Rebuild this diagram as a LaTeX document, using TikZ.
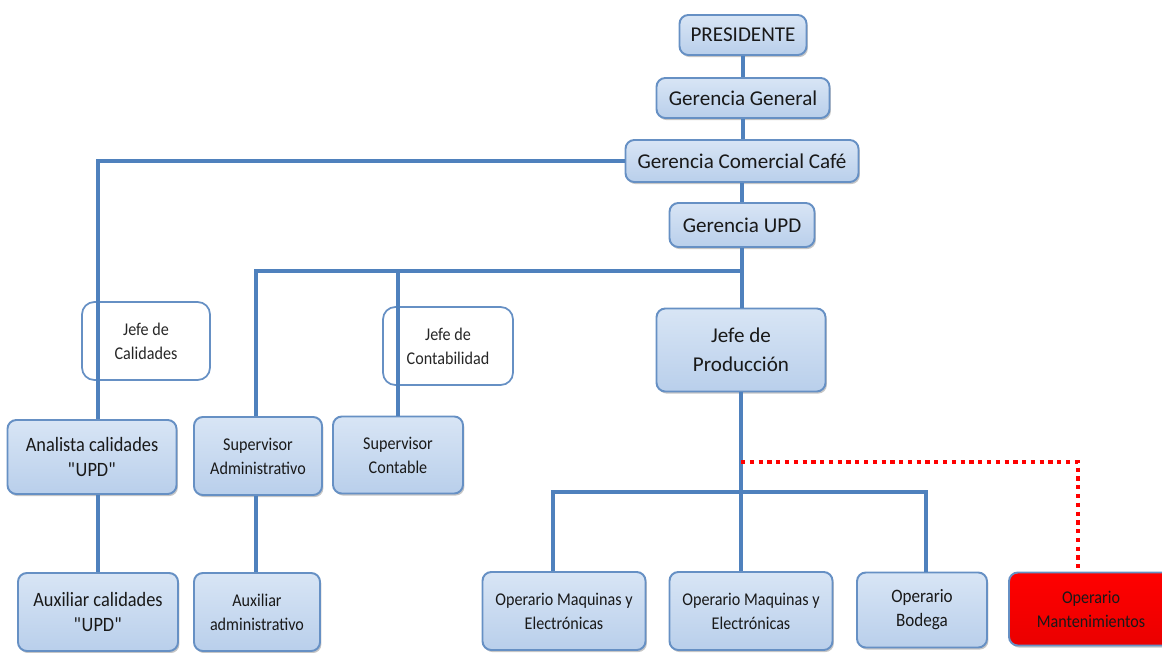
\documentclass[tikz,border=0pt]{standalone}
\usepackage{fontspec}
\setmainfont{Carlito}
\newfontfamily\narrowfont{Carlito}[FakeStretch=0.9]
\usetikzlibrary{shadows}

\definecolor{orgblue}{HTML}{4F81BD}
\definecolor{boxtop}{HTML}{D8E5F5}
\definecolor{boxbottom}{HTML}{B9CFEB}
\definecolor{boxedge}{HTML}{6690C4}

\tikzset{
  orgline/.style={line width=2.6pt, orgblue, line join=miter},
  dotline/.style={line width=2.4pt, red, dash pattern=on 2.4pt off 2.6pt},
  boxsize/.style 2 args={minimum width=#1*0.02cm, minimum height=#2*0.02cm},
  chartbox/.style 2 args={boxsize={#1}{#2}, draw=boxedge, line width=1.1pt,
    rounded corners=5pt, top color=boxtop, bottom color=boxbottom,
    drop shadow={shadow xshift=0.8pt, shadow yshift=-1.2pt, opacity=0.45},
    align=center, inner sep=0pt, text=black!90},
  ghostbox/.style 2 args={boxsize={#1}{#2}, draw=boxedge, line width=1pt,
    rounded corners=7pt, align=center, inner sep=0pt, text=black!85},
  redbox/.style 2 args={chartbox={#1}{#2}, top color=red, bottom color=red!92!black},
  bigtext/.style={font=\fontsize{12}{16.4}\selectfont},
  midtext/.style={font=\narrowfont\fontsize{11.6}{14}\selectfont},
  smalltext/.style={font=\narrowfont\fontsize{10.2}{13.6}\selectfont},
}

\begin{document}
\begin{tikzpicture}[x=0.02cm, y=-0.02cm]
  \useasboundingbox (0,0) rectangle (1162,652);

  %top of the chart
  \node[chartbox={127}{40}, bigtext] (pres) at (743,35) {PRESIDENTE};
  \node[chartbox={173}{40}, bigtext] (gg) at (743,98) {Gerencia General};
  \node[chartbox={233}{42}, bigtext] (gcc) at (742,161) {Gerencia Comercial Café};
  \node[chartbox={145}{44}, bigtext] (gupd) at (742,225) {Gerencia UPD};
  \node[chartbox={169}{83}, bigtext] (jprod) at (741,350) {Jefe de\\Producción};

  %jefes without box fill
  \node[ghostbox={128}{78}, smalltext] (jcal) at (146,341) {Jefe de\\Calidades};
  \node[ghostbox={130}{78}, smalltext] (jcont) at (448,346) {Jefe de\\Contabilidad};

  %analysts and supervisors
  \node[chartbox={169}{74}, midtext] (anal) at (92,457) {Analista calidades\\\textquotedbl UPD\textquotedbl};
  \node[chartbox={128}{78}, smalltext] (supadm) at (258,456) {Supervisor\\Administrativo};
  \node[chartbox={130}{77}, smalltext] (supcont) at (398,455) {Supervisor\\Contable};

  %bottom row
  \node[chartbox={160}{78}, midtext] (auxcal) at (98,612) {Auxiliar calidades\\\textquotedbl UPD\textquotedbl};
  \node[chartbox={126}{78}, smalltext] (auxadm) at (257,612) {Auxiliar\\administrativo};
  \node[chartbox={163}{78}, smalltext] (opmaqa) at (564,611) {Operario Maquinas y\\Electrónicas};
  \node[chartbox={163}{78}, smalltext] (opmaqb) at (751,611) {Operario Maquinas y\\Electrónicas};
  \node[chartbox={130}{75}, smalltext, font=\narrowfont\fontsize{10.8}{13.6}\selectfont] (opbod) at (922,610) {Operario\\Bodega};
  \node[redbox={164}{73}, smalltext] (opmant) at (1091,609) {Operario\\Mantenimientos};

  %main trunk
  \foreach \a/\b in {pres/gg,gg/gcc,gcc/gupd,gupd/jprod}
    \draw[orgline] (\a.south) -- (\a.south |- \b.north);

  %calidades branch
  \coordinate (calturn) at (98,161);
  \draw[orgline] (gcc.west) -- (calturn) -- (calturn |- anal.north);
  \draw[orgline] (calturn |- anal.south) -- (calturn |- auxcal.north);

  %UPD branch
  \coordinate (updbus) at (742,271);
  \coordinate (admturn) at (256,271);
  \draw[orgline] (updbus) -- (admturn) -- (admturn |- supadm.north);
  \draw[orgline] (supcont.north |- updbus) -- (supcont.north);
  \draw[orgline] (admturn |- supadm.south) -- (admturn |- auxadm.north);

  %production branch
  \coordinate (maqturn) at (553,492);
  \coordinate (bodturn) at (926,492);
  \draw[orgline] (jprod.south) -- (jprod.south |- opmaqb.north);
  \draw[orgline] (maqturn |- opmaqa.north) -- (maqturn) -- (bodturn) -- (bodturn |- opbod.north);

  %dotted line to mantenimiento
  \coordinate (mantturn) at (1078,462);
  \draw[dotline] (jprod.south |- mantturn) -- (mantturn) -- (mantturn |- opmant.north);
\end{tikzpicture}
\end{document}
